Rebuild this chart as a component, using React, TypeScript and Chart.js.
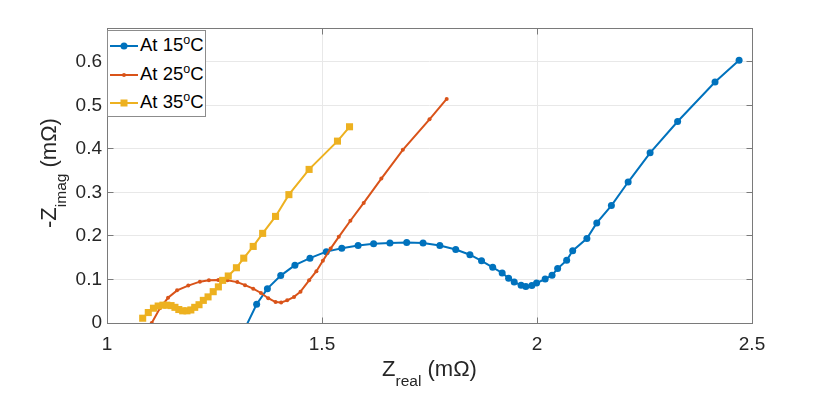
import React, { useEffect, useRef } from 'react';
import { Chart, registerables } from 'chart.js';

Chart.register(...registerables);

// ---- Data ----
const xTicks = [1, 1.5, 2, 2.5];
const yTicks = [0, 0.1, 0.2, 0.3, 0.4, 0.5, 0.6];
const xMin = 1;
const xMax = 2.5;
const yMin = 0;
const yMax = 0.678;

const seriesLabels = ['15', '25', '35'];

const real15 = [1.322, 1.348, 1.373, 1.404, 1.437, 1.472, 1.510, 1.546, 1.584, 1.620, 1.658, 1.697, 1.735, 1.774, 1.811, 1.844, 1.871, 1.897, 1.919, 1.934, 1.947, 1.963, 1.974, 1.988, 1.999, 2.019, 2.035, 2.048, 2.069, 2.083, 2.116, 2.139, 2.173, 2.212, 2.263, 2.327, 2.414, 2.470];
const imag15 = [-0.010, 0.043, 0.079, 0.109, 0.133, 0.149, 0.164, 0.172, 0.178, 0.182, 0.184, 0.185, 0.184, 0.178, 0.169, 0.157, 0.143, 0.128, 0.115, 0.103, 0.094, 0.087, 0.084, 0.086, 0.092, 0.101, 0.110, 0.125, 0.144, 0.166, 0.194, 0.230, 0.270, 0.324, 0.391, 0.463, 0.554, 0.604];

const real25 = [1.104, 1.123, 1.142, 1.163, 1.189, 1.216, 1.237, 1.259, 1.280, 1.303, 1.321, 1.340, 1.358, 1.375, 1.392, 1.405, 1.419, 1.435, 1.450, 1.470, 1.487, 1.502, 1.520, 1.539, 1.566, 1.597, 1.638, 1.688, 1.750, 1.790];
const imag25 = [0.000, 0.034, 0.058, 0.075, 0.086, 0.095, 0.098, 0.099, 0.098, 0.094, 0.087, 0.079, 0.069, 0.057, 0.048, 0.047, 0.052, 0.060, 0.072, 0.098, 0.119, 0.143, 0.171, 0.198, 0.235, 0.276, 0.332, 0.398, 0.468, 0.515];

const real35 = [1.083, 1.096, 1.108, 1.119, 1.130, 1.139, 1.149, 1.158, 1.167, 1.176, 1.186, 1.195, 1.204, 1.214, 1.224, 1.235, 1.247, 1.259, 1.269, 1.282, 1.301, 1.318, 1.340, 1.362, 1.392, 1.423, 1.470, 1.536, 1.564];
const imag35 = [0.011, 0.024, 0.034, 0.039, 0.041, 0.041, 0.040, 0.036, 0.031, 0.028, 0.028, 0.030, 0.036, 0.042, 0.052, 0.060, 0.072, 0.083, 0.098, 0.108, 0.127, 0.149, 0.176, 0.206, 0.245, 0.295, 0.353, 0.418, 0.451];

const COLORS = ['#0072BD', '#D95319', '#EDB120'];
const FONT = "'Liberation Sans', Arial, Helvetica, sans-serif";
const TEXT = '#262626';

const toPoints = (xs: number[], ys: number[]) => xs.map((x, i) => ({ x, y: ys[i] }));

const framePlugin = {
  id: 'frameTicks',
  afterDraw(chart: any) {
    const { ctx, chartArea, scales } = chart;
    const L = Math.floor(chartArea.left) + 0.5;
    const R = Math.floor(chartArea.right) + 0.5;
    const T = Math.floor(chartArea.top) + 0.5;
    const B = Math.floor(chartArea.bottom) + 0.5;
    ctx.save();
    ctx.strokeStyle = '#7a7a7a';
    ctx.lineWidth = 1;
    ctx.strokeRect(L, T, R - L, B - T);
    const len = 6;
    ctx.beginPath();
    xTicks.forEach((v) => {
      const p = Math.floor(scales.x.getPixelForValue(v)) + 0.5;
      ctx.moveTo(p, B);
      ctx.lineTo(p, B - len);
      ctx.moveTo(p, T);
      ctx.lineTo(p, T + len);
    });
    yTicks.forEach((v) => {
      const p = Math.floor(scales.y.getPixelForValue(v)) + 0.5;
      ctx.moveTo(L, p);
      ctx.lineTo(L + len, p);
      ctx.moveTo(R, p);
      ctx.lineTo(R - len, p);
    });
    ctx.stroke();
    ctx.restore();
  },
};

function LegendRow({ idx, top }: { idx: number; top: number }) {
  const c = COLORS[idx];
  let marker: any = null;
  if (idx === 0) marker = <circle cx={16} cy={10} r={3.5} fill={c} />;
  else if (idx === 1) marker = <circle cx={16} cy={10} r={2} fill={c} />;
  else marker = <rect x={12.5} y={6.5} width={7} height={7} fill={c} />;
  return (
    <div style={{ position: 'absolute', left: 0, top, height: 20, display: 'flex', alignItems: 'center', whiteSpace: 'nowrap' }}>
      <svg width={32} height={20} style={{ display: 'block' }}>
        <line x1={2} y1={10} x2={30} y2={10} stroke={c} strokeWidth={2} />
        {marker}
      </svg>
      <span style={{ fontSize: 18.5, lineHeight: '20px', color: '#000', fontFamily: FONT }}>
        At {seriesLabels[idx]}
        <span style={{ fontSize: 12.5, position: 'relative', top: -7 }}>o</span>C
      </span>
    </div>
  );
}

export default function App() {
  const canvasRef = useRef<HTMLCanvasElement | null>(null);

  useEffect(() => {
    if (!canvasRef.current) return;
    const chart = new Chart(canvasRef.current, {
      type: 'scatter',
      data: {
        datasets: [
          {
            label: 'At 15oC',
            data: toPoints(real15, imag15),
            showLine: true,
            borderColor: COLORS[0],
            backgroundColor: COLORS[0],
            borderWidth: 2,
            pointStyle: 'circle',
            pointRadius: 3.5,
            pointBorderWidth: 0,
            tension: 0,
            clip: 0,
            order: 3,
          },
          {
            label: 'At 25oC',
            data: toPoints(real25, imag25),
            showLine: true,
            borderColor: COLORS[1],
            backgroundColor: COLORS[1],
            borderWidth: 2,
            pointStyle: 'circle',
            pointRadius: 2,
            pointBorderWidth: 0,
            tension: 0,
            clip: 0,
            order: 2,
          },
          {
            label: 'At 35oC',
            data: toPoints(real35, imag35),
            showLine: true,
            borderColor: COLORS[2],
            backgroundColor: COLORS[2],
            borderWidth: 2,
            pointStyle: 'rect',
            pointRadius: 5,
            pointBorderWidth: 0,
            tension: 0,
            clip: 0,
            order: 1,
          },
        ] as any,
      },
      options: {
        animation: false,
        responsive: false,
        maintainAspectRatio: false,
        events: [],
        layout: { padding: { left: 0, right: 78, top: 28, bottom: 0 } },
        plugins: { legend: { display: false }, tooltip: { enabled: false } },
        scales: {
          x: {
            type: 'linear',
            min: xMin,
            max: xMax,
            afterFit: (s: any) => {
              s.height = 71;
            },
            afterBuildTicks: (s: any) => {
              s.ticks = xTicks.map((v) => ({ value: v }));
            },
            ticks: {
              padding: 10,
              color: TEXT,
              font: { family: FONT, size: 19 },
              maxRotation: 0,
              autoSkip: false,
              callback: (v: any) => String(v),
            },
            grid: { color: '#e8e8e8', drawTicks: false },
            border: { display: false },
          },
          y: {
            type: 'linear',
            min: yMin,
            max: yMax,
            afterFit: (s: any) => {
              s.width = 107;
            },
            afterBuildTicks: (s: any) => {
              s.ticks = yTicks.map((v) => ({ value: v }));
            },
            ticks: {
              padding: 5,
              color: TEXT,
              font: { family: FONT, size: 19 },
              autoSkip: false,
              callback: (v: any) => String(v),
            },
            grid: { color: '#e8e8e8', drawTicks: false },
            border: { display: false },
          },
        },
      },
      plugins: [framePlugin],
    });
    return () => chart.destroy();
  }, []);

  return (
    <div style={{ position: 'absolute', left: 0, top: 0, width: 830, height: 394, background: '#fff', overflow: 'hidden', fontFamily: FONT }}>
      <canvas ref={canvasRef} width={830} height={394} style={{ display: 'block', position: 'absolute', left: 0, top: 0 }} />
      {/* Legend */}
      <div style={{ position: 'absolute', left: 107, top: 30, width: 99, height: 87, border: '1px solid #8c8c8c', background: '#fff', boxSizing: 'border-box' }}>
        <LegendRow idx={0} top={5} />
        <LegendRow idx={1} top={33.5} />
        <LegendRow idx={2} top={62} />
      </div>
      {/* X axis title */}
      <div style={{ position: 'absolute', left: 107, top: 359, width: 645, height: 20, lineHeight: '20px', fontSize: 22, textAlign: 'center', color: TEXT, whiteSpace: 'nowrap' }}>
        Z<span style={{ fontSize: 15.5, position: 'relative', top: 10 }}>real</span> (mΩ)
      </div>
      {/* Y axis title */}
      <div style={{ position: 'absolute', left: -101, top: 163, width: 300, height: 20, lineHeight: '20px', fontSize: 22, textAlign: 'center', color: TEXT, whiteSpace: 'nowrap', transform: 'rotate(-90deg)', transformOrigin: '50% 50%' }}>
        -Z<span style={{ fontSize: 15.5, position: 'relative', top: 10 }}>imag</span> (mΩ)
      </div>
    </div>
  );
}
